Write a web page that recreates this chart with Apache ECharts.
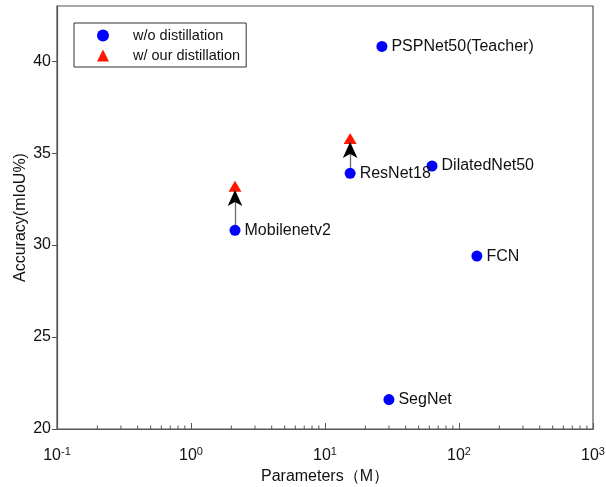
<!DOCTYPE html>
<html>
<head>
<meta charset="utf-8">
<script src="https://cdn.jsdelivr.net/npm/echarts@6/dist/echarts.min.js"></script>
<style>html,body{margin:0;padding:0;background:#fff}#c{width:606px;height:487px}</style>
</head>
<body>
<div id="c"></div>
<script>
// ---- data ----
const models = ['PSPNet50(Teacher)', 'DilatedNet50', 'ResNet18', 'Mobilenetv2', 'FCN', 'SegNet'];
const params = [26.6, 62.9, 15.4, 2.13, 136, 30.0];
const miou = [40.8, 34.3, 33.9, 30.8, 29.4, 21.6];
const distilledModels = ['ResNet18', 'Mobilenetv2'];
const distilledParams = [15.4, 2.13];
const distilledMiou = [35.8, 33.2];
const arrowTail = [33.9, 30.8];
const arrowHead = [35.6, 33.0];
const xTickValues = [0.1, 1, 10, 100, 1000];
const xTickExp = ['-1', '0', '1', '2', '3'];
const yTickValues = [20, 25, 30, 35, 40];
const xMinorTicks = [0.2,0.3,0.4,0.5,0.6,0.7,0.8,0.9, 2,3,4,5,6,7,8,9, 20,30,40,50,60,70,80,90, 200,300,400,500,600,700,800,900];
const seriesNames = ['w/o distillation', 'w/ our distillation'];

const FONT = 'Liberation Sans, Arial, sans-serif';
const AXC = '#555';
const TXT = '#111';

const chart = echarts.init(document.getElementById('c'), null, {renderer: 'canvas'});
chart.setOption({
  animation: false,
  grid: {left: 57, right: 13, top: 6, bottom: 58, show: true, borderColor: AXC, borderWidth: 1.2, containLabel: false, outerBoundsMode: 'none'},
  legend: {
    left: 74, top: 23, orient: 'vertical',
    backgroundColor: '#fff', borderColor: '#333', borderWidth: 1,
    padding: [5, 6, 4, 23], itemGap: 5, itemWidth: 12, itemHeight: 12,
    textStyle: {fontFamily: FONT, fontSize: 14.5, color: TXT, padding: [0, 0, 0, 19]},
    data: [{name: seriesNames[0], icon: 'circle'}, {name: seriesNames[1], icon: 'triangle'}]
  },
  xAxis: {
    type: 'log', logBase: 10, min: xTickValues[0], max: xTickValues[xTickValues.length - 1],
    name: 'Parameters（M）', nameLocation: 'middle', nameGap: 40, nameMoveOverlap: false,
    nameTextStyle: {fontFamily: FONT, fontSize: 16, color: TXT},
    axisLine: {show: true, lineStyle: {color: AXC, width: 1.2}},
    axisTick: {show: true, inside: true, length: 6, lineStyle: {color: AXC}},
    splitLine: {show: false},
    axisLabel: {
      margin: 17, color: TXT, fontFamily: FONT, fontSize: 16,
      formatter: function (v) {
        const i = xTickValues.findIndex(t => Math.abs(Math.log10(t) - Math.log10(v)) < 1e-6);
        return i < 0 ? '' : '{b|10}{s|' + xTickExp[i] + '}';
      },
      rich: {
        b: {fontFamily: FONT, fontSize: 16, color: TXT, verticalAlign: 'bottom', lineHeight: 18},
        s: {fontFamily: FONT, fontSize: 11, color: TXT, verticalAlign: 'top', padding: [0, 0, 10, 0], lineHeight: 12}
      }
    }
  },
  yAxis: {
    type: 'value', min: 20, max: 43, interval: 5,
    name: 'Accuracy(mIoU%)', nameLocation: 'middle', nameGap: 28, nameRotate: 90, nameMoveOverlap: false,
    nameTextStyle: {fontFamily: FONT, fontSize: 16, color: TXT},
    axisLine: {show: true, lineStyle: {color: AXC, width: 1.2}},
    axisTick: {show: true, inside: false, length: 5, lineStyle: {color: AXC}},
    splitLine: {show: false},
    axisLabel: {
      margin: 6, color: TXT, fontFamily: FONT, fontSize: 16, showMaxLabel: false,
      formatter: v => yTickValues.includes(v) ? String(v) : ''
    }
  },
  series: [
    {
      type: 'custom', name: 'minor', silent: true, z: 1,
      data: xMinorTicks.map(v => [v, 20]),
      renderItem: function (params, api) {
        const p = api.coord([api.value(0), api.value(1)]);
        return {type: 'line', shape: {x1: p[0], y1: p[1], x2: p[0], y2: p[1] - 3.5}, style: {stroke: AXC, lineWidth: 1}};
      },
      clip: false
    },
    {
      type: 'scatter', name: seriesNames[1], symbol: 'triangle', symbolSize: [13, 11], z: 3,
      itemStyle: {color: '#ff1500', opacity: 1},
      data: distilledParams.map((p, i) => [p, distilledMiou[i]])
    },
    {
      type: 'lines', coordinateSystem: 'cartesian2d', name: 'arrowShaft', z: 4, silent: true,
      symbol: ['none', 'none'],
      lineStyle: {color: '#6a6a6a', width: 1.3, opacity: 1},
      data: distilledParams.map((p, i) => ({coords: [[p, arrowTail[i]], [p, arrowHead[i]]]}))
    },
    {
      type: 'scatter', name: 'arrowHead', symbol: 'arrow', symbolSize: [11, 16], z: 4, silent: true,
      itemStyle: {color: '#000', opacity: 1},
      data: distilledParams.map((p, i) => [p, arrowHead[i]])
    },
    {
      type: 'scatter', name: seriesNames[0], symbol: 'circle', symbolSize: 11, z: 5,
      itemStyle: {color: '#0000ff', opacity: 1},
      label: {
        show: true, position: 'right', distance: 4, color: TXT, fontFamily: FONT, fontSize: 16,
        formatter: p => models[p.dataIndex]
      },
      data: params.map((p, i) => [p, miou[i]])
    }
  ]
});
</script>
</body>
</html>
